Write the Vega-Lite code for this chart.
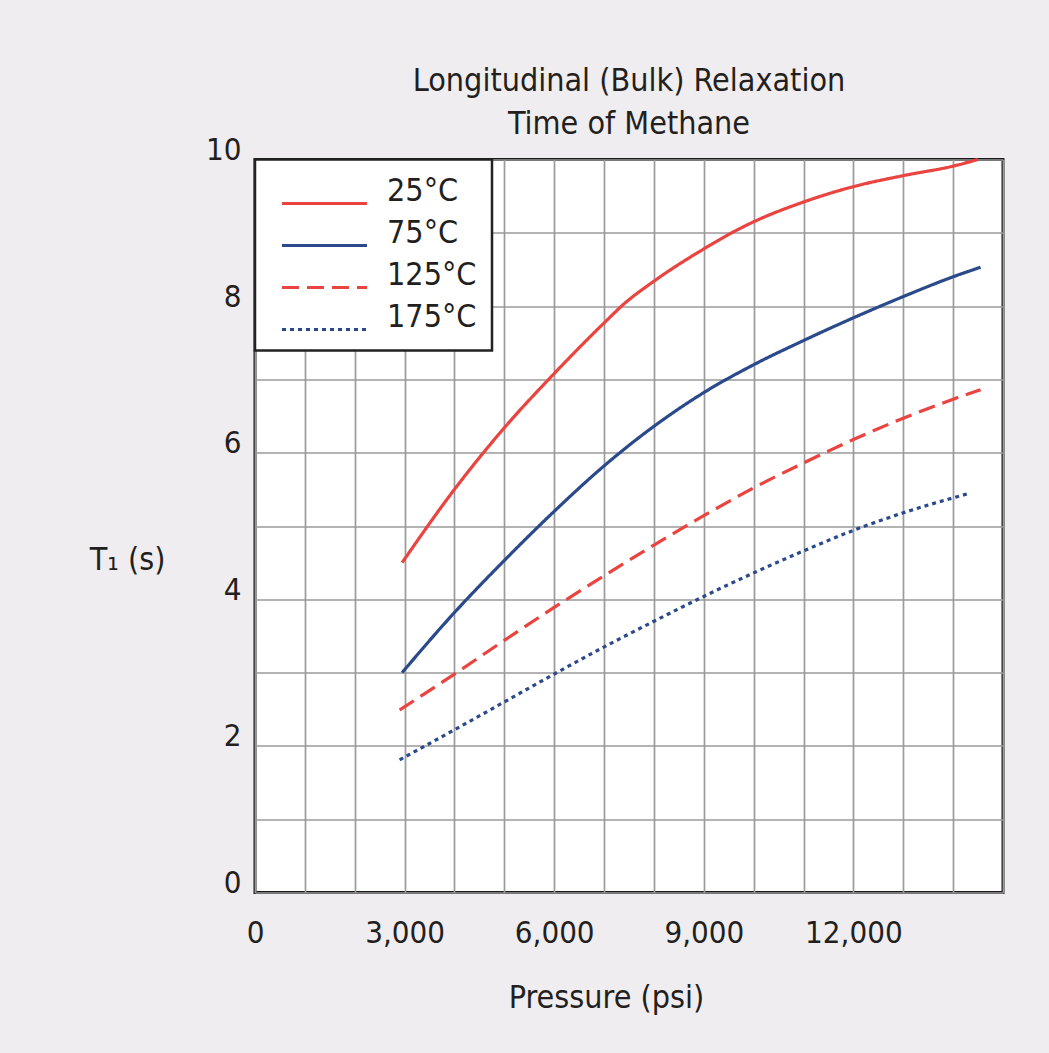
{
  "$schema": "https://vega.github.io/schema/vega-lite/v6.json",
  "width": 748,
  "height": 733,
  "autosize": {"type": "none"},
  "padding": {"left": 255, "top": 159.5, "right": 46, "bottom": 160.5},
  "background": "#efedef",
  "title": {
    "text": ["Longitudinal (Bulk) Relaxation", "Time of Methane"],
    "anchor": "middle",
    "fontSize": 32,
    "lineHeight": 43,
    "fontWeight": "normal",
    "font": "Liberation Sans Narrow, DejaVu Sans Condensed, sans-serif",
    "color": "#231f20",
    "offset": -6
  },
  "data": {
    "values": [
      {"temp": "25°C", "pressure": 2950, "t1": 4.5},
      {"temp": "25°C", "pressure": 4000, "t1": 5.5},
      {"temp": "25°C", "pressure": 5000, "t1": 6.34},
      {"temp": "25°C", "pressure": 6000, "t1": 7.08},
      {"temp": "25°C", "pressure": 7000, "t1": 7.77},
      {"temp": "25°C", "pressure": 7400, "t1": 8.03},
      {"temp": "25°C", "pressure": 8000, "t1": 8.34},
      {"temp": "25°C", "pressure": 9000, "t1": 8.78},
      {"temp": "25°C", "pressure": 9700, "t1": 9.05},
      {"temp": "25°C", "pressure": 10000, "t1": 9.15},
      {"temp": "25°C", "pressure": 11000, "t1": 9.42},
      {"temp": "25°C", "pressure": 12000, "t1": 9.63},
      {"temp": "25°C", "pressure": 13000, "t1": 9.78},
      {"temp": "25°C", "pressure": 14000, "t1": 9.91},
      {"temp": "25°C", "pressure": 14500, "t1": 10.0},

      {"temp": "75°C", "pressure": 2950, "t1": 3.0},
      {"temp": "75°C", "pressure": 4000, "t1": 3.82},
      {"temp": "75°C", "pressure": 5000, "t1": 4.53},
      {"temp": "75°C", "pressure": 6000, "t1": 5.2},
      {"temp": "75°C", "pressure": 7000, "t1": 5.82},
      {"temp": "75°C", "pressure": 8000, "t1": 6.36},
      {"temp": "75°C", "pressure": 9000, "t1": 6.82},
      {"temp": "75°C", "pressure": 10000, "t1": 7.2},
      {"temp": "75°C", "pressure": 11000, "t1": 7.53},
      {"temp": "75°C", "pressure": 12000, "t1": 7.84},
      {"temp": "75°C", "pressure": 13000, "t1": 8.13},
      {"temp": "75°C", "pressure": 14000, "t1": 8.4},
      {"temp": "75°C", "pressure": 14550, "t1": 8.53},

      {"temp": "125°C", "pressure": 2900, "t1": 2.49},
      {"temp": "125°C", "pressure": 4000, "t1": 2.98},
      {"temp": "125°C", "pressure": 5000, "t1": 3.44},
      {"temp": "125°C", "pressure": 6000, "t1": 3.89},
      {"temp": "125°C", "pressure": 7000, "t1": 4.32},
      {"temp": "125°C", "pressure": 8000, "t1": 4.74},
      {"temp": "125°C", "pressure": 9000, "t1": 5.14},
      {"temp": "125°C", "pressure": 10000, "t1": 5.52},
      {"temp": "125°C", "pressure": 11000, "t1": 5.86},
      {"temp": "125°C", "pressure": 12000, "t1": 6.18},
      {"temp": "125°C", "pressure": 13000, "t1": 6.47},
      {"temp": "125°C", "pressure": 14000, "t1": 6.73},
      {"temp": "125°C", "pressure": 14550, "t1": 6.86},

      {"temp": "175°C", "pressure": 2900, "t1": 1.81},
      {"temp": "175°C", "pressure": 4000, "t1": 2.22},
      {"temp": "175°C", "pressure": 5000, "t1": 2.6},
      {"temp": "175°C", "pressure": 6000, "t1": 2.98},
      {"temp": "175°C", "pressure": 7000, "t1": 3.35},
      {"temp": "175°C", "pressure": 8000, "t1": 3.7},
      {"temp": "175°C", "pressure": 9000, "t1": 4.04},
      {"temp": "175°C", "pressure": 10000, "t1": 4.36},
      {"temp": "175°C", "pressure": 11000, "t1": 4.66},
      {"temp": "175°C", "pressure": 12000, "t1": 4.94},
      {"temp": "175°C", "pressure": 13000, "t1": 5.18},
      {"temp": "175°C", "pressure": 14350, "t1": 5.45}
    ]
  },
  "mark": {"type": "line", "interpolate": "monotone", "strokeWidth": 3.2, "strokeCap": "butt"},
  "encoding": {
    "x": {
      "field": "pressure",
      "type": "quantitative",
      "scale": {"domain": [0, 15000], "nice": false},
      "axis": {
        "values": [0, 1000, 2000, 3000, 4000, 5000, 6000, 7000, 8000, 9000, 10000, 11000, 12000, 13000, 14000, 15000],
        "labelExpr": "datum.value % 3000 === 0 && datum.value < 15000 ? format(datum.value, ',') : ''",
        "labelPadding": 26,
        "labelFlush": false,
        "labelOverlap": false,
        "title": "Pressure (psi)",
        "titleX": 351,
        "titleY": 114.5,
        "titleAlign": "center",
        "titleBaseline": "alphabetic"
      }
    },
    "y": {
      "field": "t1",
      "type": "quantitative",
      "scale": {"domain": [0, 10], "nice": false},
      "axis": {
        "values": [0, 1, 2, 3, 4, 5, 6, 7, 8, 9, 10],
        "labelExpr": "datum.value % 2 === 0 ? datum.label : ''",
        "labelBaseline": "alphabetic",
        "labelPadding": 14,
        "labelFlush": false,
        "labelOverlap": false,
        "title": "T₁ (s)",
        "titleAngle": 0,
        "titleX": -128,
        "titleY": 410,
        "titleAlign": "center",
        "titleBaseline": "alphabetic"
      }
    },
    "color": {
      "field": "temp",
      "type": "nominal",
      "scale": {"domain": ["25°C", "75°C", "125°C", "175°C"], "range": ["#e9443f", "#2b4a8c", "#e9443f", "#2b4a8c"]},
      "legend": {"title": null}
    },
    "strokeDash": {
      "field": "temp",
      "type": "nominal",
      "scale": {"domain": ["25°C", "75°C", "125°C", "175°C"], "range": [[1, 0], [1, 0], [17, 8], [4, 4]]},
      "legend": {"title": null}
    }
  },
  "config": {
    "view": {"stroke": "#1a1a1a", "strokeWidth": 3, "fill": "white"},
    "axis": {
      "ticks": false,
      "domain": false,
      "grid": true,
      "gridColor": "#9a9a9a",
      "gridWidth": 1.7,
      "gridOpacity": 1,
      "labelFont": "Liberation Sans Narrow, DejaVu Sans Condensed, sans-serif",
      "labelFontSize": 31,
      "labelColor": "#231f20",
      "titleFont": "Liberation Sans Narrow, DejaVu Sans Condensed, sans-serif",
      "titleFontSize": 32,
      "titleFontWeight": "normal",
      "titleColor": "#231f20"
    },
    "legend": {
      "orient": "none",
      "legendX": 0,
      "legendY": 0,
      "fillColor": "white",
      "strokeColor": "#222222",
      "strokeWidth": 2.5,
      "padding": 15,
      "rowPadding": 7,
      "symbolType": "M-1,2.6H16",
      "symbolSize": 100,
      "symbolStrokeWidth": 3,
      "symbolOffset": 1,
      "labelOffset": 84,
      "labelExpr": "datum.label + '  '",
      "labelFont": "Liberation Sans Narrow, DejaVu Sans Condensed, sans-serif",
      "labelFontSize": 32,
      "labelColor": "#231f20",
      "labelLimit": 300
    }
  }
}
